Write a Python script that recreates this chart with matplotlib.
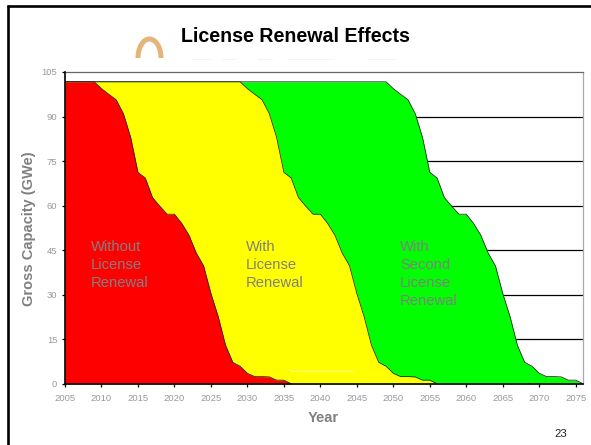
import numpy as np
import matplotlib
matplotlib.use('Agg')
import matplotlib.pyplot as plt
from matplotlib.patches import Arc

plt.rcParams['font.family'] = ['Liberation Sans', 'DejaVu Sans']

red_vals = [101.7, 101.7, 101.7, 101.7, 101.7, 99.4, 97.5, 95.7, 91, 83, 71.2, 69.3,
            62.7, 59.8, 57.1, 57.1, 54, 50, 44, 39.7, 30.4, 22.6, 13, 7.2, 5.9, 3.5,
            2.4, 2.4, 2.3, 1.2, 1.2, 0]
yellow_vals = [101.7] * 25 + [99.4, 97.5, 95.7, 91, 83, 71.2, 69.3,
            62.7, 59.8, 57.1, 57.1, 54, 50, 44, 39.7, 30.4, 22.6, 13, 7.2, 5.9, 3.5,
            2.4, 2.4, 2.3, 1.2, 1.2, 0]
green_vals = [101.7] * 45 + [99.4, 97.5, 95.7, 91, 83, 71.2, 69.3,
            62.7, 59.8, 57.1, 57.1, 54, 50, 44, 39.7, 30.4, 22.6, 13, 7.2, 5.9, 3.5,
            2.4, 2.4, 2.3, 1.2, 1.2, 0]
x_ticks = list(range(2005, 2080, 5))
y_ticks = list(range(0, 120, 15))

W, H = 591, 445
fig = plt.figure(figsize=(W / 100, H / 100), dpi=100)

# slide layer, in pixels
bg = fig.add_axes([0, 0, 1, 1], zorder=0)
bg.set_xlim(0, W)
bg.set_ylim(H, 0)
bg.axis('off')
bg.plot([8.2, 8.2], [5, H], color='black', lw=1.9, solid_capstyle='butt')
bg.plot([7, W], [6.3, 6.3], color='black', lw=1.9, solid_capstyle='butt')
bg.add_patch(Arc((149.5, 58), 23, 38, theta1=180, theta2=360, color='#E4B478', lw=3.6))
bg.text(295.5, 37, 'License Renewal Effects', fontsize=14.1, fontweight='bold',
        ha='center', va='center', color='black')
for x0, x1 in [(192, 210), (222, 236), (258, 272), (288, 334), (368, 395)]:
    bg.plot([x0, x1], [58.5, 58.5], color='#f2f2f2', lw=0.6)
bg.text(561, 434, '23', fontsize=8.2, ha='center', va='center', color='#222222')
bg.text(323, 418, 'Year', fontsize=10.5, fontweight='bold', ha='center', va='center', color='#808080')
bg.text(29, 229, 'Gross Capacity (GWe)', fontsize=10.5, fontweight='bold', rotation=90,
        ha='center', va='center', color='#808080')

# chart
ax = fig.add_axes([65 / W, 1 - 383.7 / H, 518 / W, 311.7 / H], zorder=1)
ax.patch.set_alpha(0)
for v in y_ticks[1:-1]:
    ax.axhline(v, color='black', lw=0.9, zorder=1)

ax.fill_between(np.arange(2005, 2005 + len(green_vals)), green_vals, color='#00FF00', lw=0, zorder=2)
ax.plot(np.arange(2005, 2005 + len(green_vals)), green_vals, color='#222222', lw=0.55, zorder=2)
ax.fill_between(np.arange(2005, 2005 + len(yellow_vals)), yellow_vals, color='#FFFF00', lw=0, zorder=3)
ax.plot(np.arange(2005, 2005 + len(yellow_vals)), yellow_vals, color='#222222', lw=0.55, zorder=3)
ax.fill_between(np.arange(2005, 2005 + len(red_vals)), red_vals, color='#FF0000', lw=0, zorder=4)
ax.plot(np.arange(2005, 2005 + len(red_vals)), red_vals, color='#222222', lw=0.55, zorder=4)

ax.set_xlim(2005, 2076)
ax.set_ylim(0, 105)
ax.set_xticks(x_ticks)
ax.set_yticks(y_ticks)
ax.tick_params(axis='both', labelsize=6.8, labelcolor='#999999', color='black',
               width=0.9, length=2.5, pad=3)
ax.tick_params(axis='x', pad=5)
for s in ['left', 'bottom']:
    ax.spines[s].set_linewidth(1.2)
    ax.spines[s].set_zorder(6)
ax.spines['top'].set_color('#666666')
ax.spines['right'].set_color('#aaaaaa')
ax.spines['top'].set_linewidth(0.9)
ax.spines['right'].set_linewidth(0.9)

# labels over the fills
top = fig.add_axes([0, 0, 1, 1], zorder=2)
top.set_xlim(0, W)
top.set_ylim(H, 0)
top.axis('off')
top.plot([291, 354], [370.7, 370.7], color='#ffffb0', lw=0.6)
for x, lines in [(91, ['Without', 'License', 'Renewal']),
                 (246, ['With', 'License', 'Renewal']),
                 (400, ['With', 'Second', 'License', 'Renewal'])]:
    for i, s in enumerate(lines):
        top.text(x, 251 + 18 * i, s, fontsize=10.6, color='#808080', ha='left', va='baseline')

fig.savefig('out.png', dpi=100)
